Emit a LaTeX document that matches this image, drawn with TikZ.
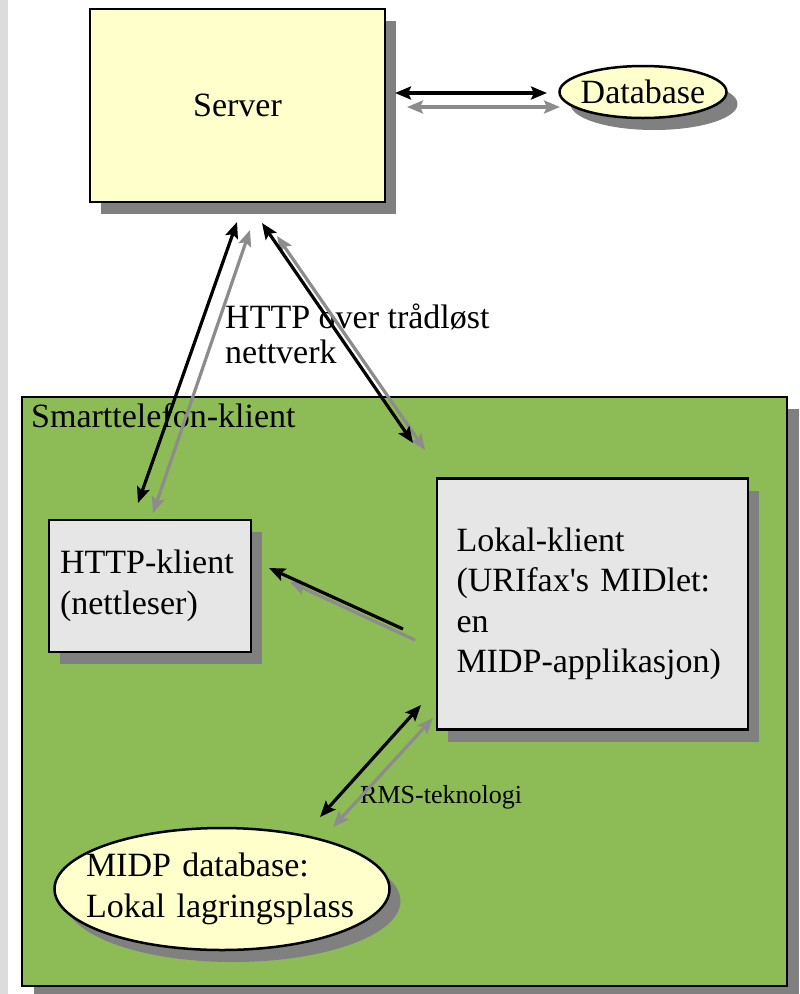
\documentclass[tikz,border=0pt]{standalone}
\usepackage{fontspec}
\setmainfont{Liberation Serif}[Ligatures=TeXOff]
\usetikzlibrary{shapes.geometric,arrows.meta,shadows}

\definecolor{paleyellow}{HTML}{FFFFCC}
\definecolor{phonegreen}{HTML}{8DBB56}
\definecolor{boxgray}{HTML}{E6E6E6}
\definecolor{shadowgray}{HTML}{808080}
\definecolor{arrowgray}{HTML}{8C8C8C}
\definecolor{stripgray}{HTML}{DCDCDC}

\begin{document}
\begin{tikzpicture}[x=1pt,y=-1pt,font=\fontsize{34}{40.5}\selectfont]
        \tikzstyle{shade}=[drop shadow={shadow xshift=11pt,shadow yshift=-12pt,fill=shadowgray,opacity=1}]
        \tikzstyle{box}=[rectangle,draw=black,line width=2.5pt,inner sep=0pt,shade]
        \tikzstyle{yellow box}=[box,fill=paleyellow]
        \tikzstyle{gray box}=[box,fill=boxgray,align=left]
        \tikzstyle{blob}=[ellipse,draw=black,line width=2.5pt,inner sep=0pt,fill=paleyellow,shade]
        \tikzstyle{both way}=[line width=3.2pt,{Stealth[length=16pt,width=13pt,inset=3pt]}-{Stealth[length=16pt,width=13pt,inset=3pt]}]
        \tikzstyle{one way}=[line width=3.2pt,-{Stealth[length=16pt,width=13pt,inset=3pt]}]

        % Page
        \useasboundingbox (0,0) rectangle (800,994);
        \fill[white] (0,0) rectangle (800,994);
        \fill[stripgray] (0,0) rectangle (8,994);

        % Server side
        \node[yellow box,minimum width=295,minimum height=193] (server) at (237.5,105.5) {Server};
        \node[blob,minimum width=167,minimum height=52,
            label={[name=db-text]center:Database}] (db) at (643,92) {};

        % Smartphone
        \node[rectangle,draw=black,line width=1.5pt,fill=phonegreen,inner sep=0pt,
            drop shadow={shadow xshift=12pt,shadow yshift=-12pt,fill=shadowgray,opacity=1},
            minimum width=765,minimum height=589] (phone) at (404.5,691.5) {};
        \node[anchor=base west,inner sep=0pt] (phone-text) at (31,427) {Smarttelefon-klient};

        \node[gray box,minimum width=202,minimum height=132,text width=180] (http) at (150,586) {HTTP-klient\\(nettleser)};
        \node[gray box,minimum width=311,minimum height=251,text width=272] (local) at (592.5,604) {Lokal-klient\\(URIfax's MIDlet:\\en\\MIDP-applikasjon)};
        \node[blob,minimum width=335,minimum height=122,
            label={[name=midp-text,align=left,text width=272]center:MIDP database:\\Lokal lagringsplass}] (midp) at (222,889) {};

        % Labels
        \node[anchor=base west,inner sep=0pt,align=left,font=\fontsize{34}{35}\selectfont] (net) at (225,363) {HTTP over trådløst\\nettverk};
        \node[anchor=base west,inner sep=0pt,font=\fontsize{26}{30}\selectfont] (rms) at (360,803) {RMS-teknologi};

        % Arrow ends
        \coordinate (sd-b1) at (395,93);   \coordinate (sd-b2) at (547,93);
        \coordinate (sd-g1) at (407,107);  \coordinate (sd-g2) at (560,107);
        \coordinate (sh-b1) at (237,222);  \coordinate (sh-b2) at (138,503);
        \coordinate (sh-g1) at (250,230);  \coordinate (sh-g2) at (153,513);
        \coordinate (sl-b1) at (262,223);  \coordinate (sl-b2) at (413,443);
        \coordinate (sl-g1) at (277,236);  \coordinate (sl-g2) at (425,450);
        \coordinate (lh-b1) at (403,629);  \coordinate (lh-b2) at (269,568);
        \coordinate (lh-g1) at (415,640);  \coordinate (lh-g2) at (290,582);
        \coordinate (rl-b1) at (421,705);  \coordinate (rl-b2) at (320,817);
        \coordinate (rl-g1) at (433,718);  \coordinate (rl-g2) at (333,827);

        % Connect nodes, gray first
        \foreach \name in {sd,sh,sl,rl}
            \draw[both way,arrowgray] (\name-g1) -- (\name-g2);
        \draw[one way,arrowgray] (lh-g1) -- (lh-g2);

        \foreach \name in {sd,sh,sl,rl}
            \draw[both way] (\name-b1) -- (\name-b2);
        \draw[one way] (lh-b1) -- (lh-b2);

    \end{tikzpicture}
\end{document}
